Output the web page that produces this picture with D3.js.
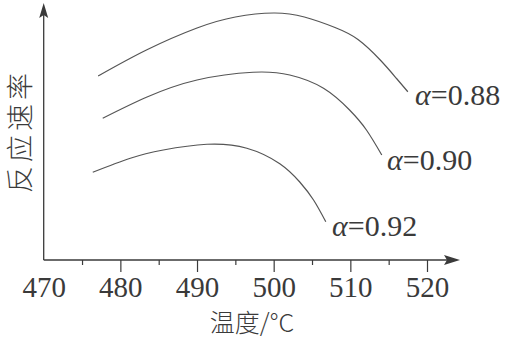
<!DOCTYPE html>
<html>
<head>
<meta charset="utf-8">
<script src="https://cdn.jsdelivr.net/npm/d3@7"></script>
<style>
  html, body { margin: 0; padding: 0; background: #fff; }
  svg { display: block; }
</style>
</head>
<body>
<script>
// ---- data ----
const xTickValues = [470, 480, 490, 500, 510, 520];
const xMinorTicks = [475, 485, 495, 505, 515];
const xTitle = "温度/°C";
const yTitle = "反应速率";
const alphaValues = ["0.88", "0.90", "0.92"];

const temps088 = [477.1, 483.4, 490.0, 495.0, 500.0, 504.0, 508.0, 511.0, 513.9, 516.0, 517.5];
const rate088  = [7.36, 8.40, 9.28, 9.72, 9.88, 9.72, 9.30, 8.82, 8.00, 7.27, 6.73];

const temps090 = [477.7, 483.4, 490.0, 497.3, 502.1, 506.5, 509.9, 512.1, 514.1];
const rate090  = [5.67, 6.51, 7.20, 7.51, 7.40, 6.87, 6.00, 5.20, 4.20];

const temps092 = [476.4, 481.3, 485.6, 491.3, 496.5, 500.8, 503.4, 505.2, 506.8];
const rate092  = [3.51, 4.07, 4.40, 4.63, 4.47, 3.85, 3.12, 2.40, 1.53];

// ---- font detection (system fonts only) ----
function fontAvailable(name) {
  const ctx = document.createElement("canvas").getContext("2d");
  const s = "470 α=0.88 abcdefghijWMmi";
  return ["monospace", "sans-serif", "serif"].some(base => {
    ctx.font = `40px ${base}`;
    const w0 = ctx.measureText(s).width;
    ctx.font = `40px "${name}", ${base}`;
    return ctx.measureText(s).width !== w0;
  });
}
const serifCandidates = ["Liberation Serif", "Tinos", "Times New Roman", "Times", "Nimbus Roman", "FreeSerif", "DejaVu Serif", "Noto Serif"];
const serifFound = serifCandidates.find(fontAvailable);
const serifFont = serifFound ? `"${serifFound}", serif` : "serif";
const cjkFont = `"Noto Sans CJK SC", "Noto Sans CJK JP", sans-serif`;

// ---- layout ----
const W = 508, H = 339;
const svg = d3.select("body").append("svg").attr("width", W).attr("height", H);

const x = d3.scaleLinear().domain([470, 520]).range([43.7, 427]);
const y = d3.scaleLinear().domain([0, 10]).range([260, 10]);

const ink = "#3a3a3a";
const lineInk = "#555";

// axes lines with arrows
const x0 = x(470), y0 = y(0);
svg.append("line").attr("x1", x0).attr("y1", y0).attr("x2", 448).attr("y2", y0)
  .attr("stroke", ink).attr("stroke-width", 1.3);
svg.append("path").attr("d", `M460,${y0} L444,${y0-5} L447,${y0} L444,${y0+5} Z`).attr("fill", ink);
svg.append("line").attr("x1", x0).attr("y1", y0).attr("x2", x0).attr("y2", 15)
  .attr("stroke", ink).attr("stroke-width", 1.3);
svg.append("path").attr("d", `M${x0},3 L${x0-4.5},18 L${x0},15 L${x0+4.5},18 Z`).attr("fill", ink);

// major ticks + labels
const gx = svg.append("g").attr("transform", `translate(0,${y0})`)
  .call(d3.axisBottom(x).tickValues(xTickValues).tickSize(12).tickPadding(6).tickFormat(d3.format("d")));
gx.attr("font-family", null).attr("font-size", null);
gx.select(".domain").remove();
gx.selectAll(".tick line").attr("stroke", ink).attr("stroke-width", 1.2)
  .filter(d => d === 470).remove();
gx.selectAll(".tick text")
  .style("font-family", serifFont)
  .attr("font-size", 29).attr("fill", ink).attr("dy", null).attr("y", 37);

// minor ticks
const gm = svg.append("g").attr("transform", `translate(0,${y0})`)
  .call(d3.axisBottom(x).tickValues(xMinorTicks).tickSize(5).tickFormat(""));
gm.select(".domain").remove();
gm.selectAll(".tick line").attr("stroke", ink).attr("stroke-width", 1.2);

// axis titles
svg.append("text").style("font-family", cjkFont).attr("font-weight", 300)
  .attr("x", 252).attr("y", 332).attr("text-anchor", "middle")
  .attr("font-size", 25).attr("fill", ink).text(xTitle);

svg.append("text").style("font-family", cjkFont).attr("font-weight", 300)
  .attr("transform", "translate(30,131) rotate(-90)")
  .attr("text-anchor", "middle")
  .attr("font-size", 27).attr("letter-spacing", 4).attr("fill", ink).text(yTitle);

// curves
const series = [
  { t: temps088, v: rate088 },
  { t: temps090, v: rate090 },
  { t: temps092, v: rate092 }
];
const line = d3.line().x(d => x(d[0])).y(d => y(d[1])).curve(d3.curveNatural);
series.forEach(s => {
  svg.append("path").datum(s.t.map((t, i) => [t, s.v[i]]))
    .attr("d", line).attr("fill", "none").attr("stroke", lineInk).attr("stroke-width", 1.2);
});

// series labels
const labelPos = [[415, 105], [387, 170], [332, 236]];
alphaValues.forEach((v, i) => {
  const t = svg.append("text").style("font-family", serifFont)
    .attr("x", labelPos[i][0]).attr("y", labelPos[i][1])
    .attr("font-size", 30).attr("fill", ink);
  t.append("tspan").attr("font-style", "italic").text("α");
  t.append("tspan").text("=" + v);
});
</script>
</body>
</html>
